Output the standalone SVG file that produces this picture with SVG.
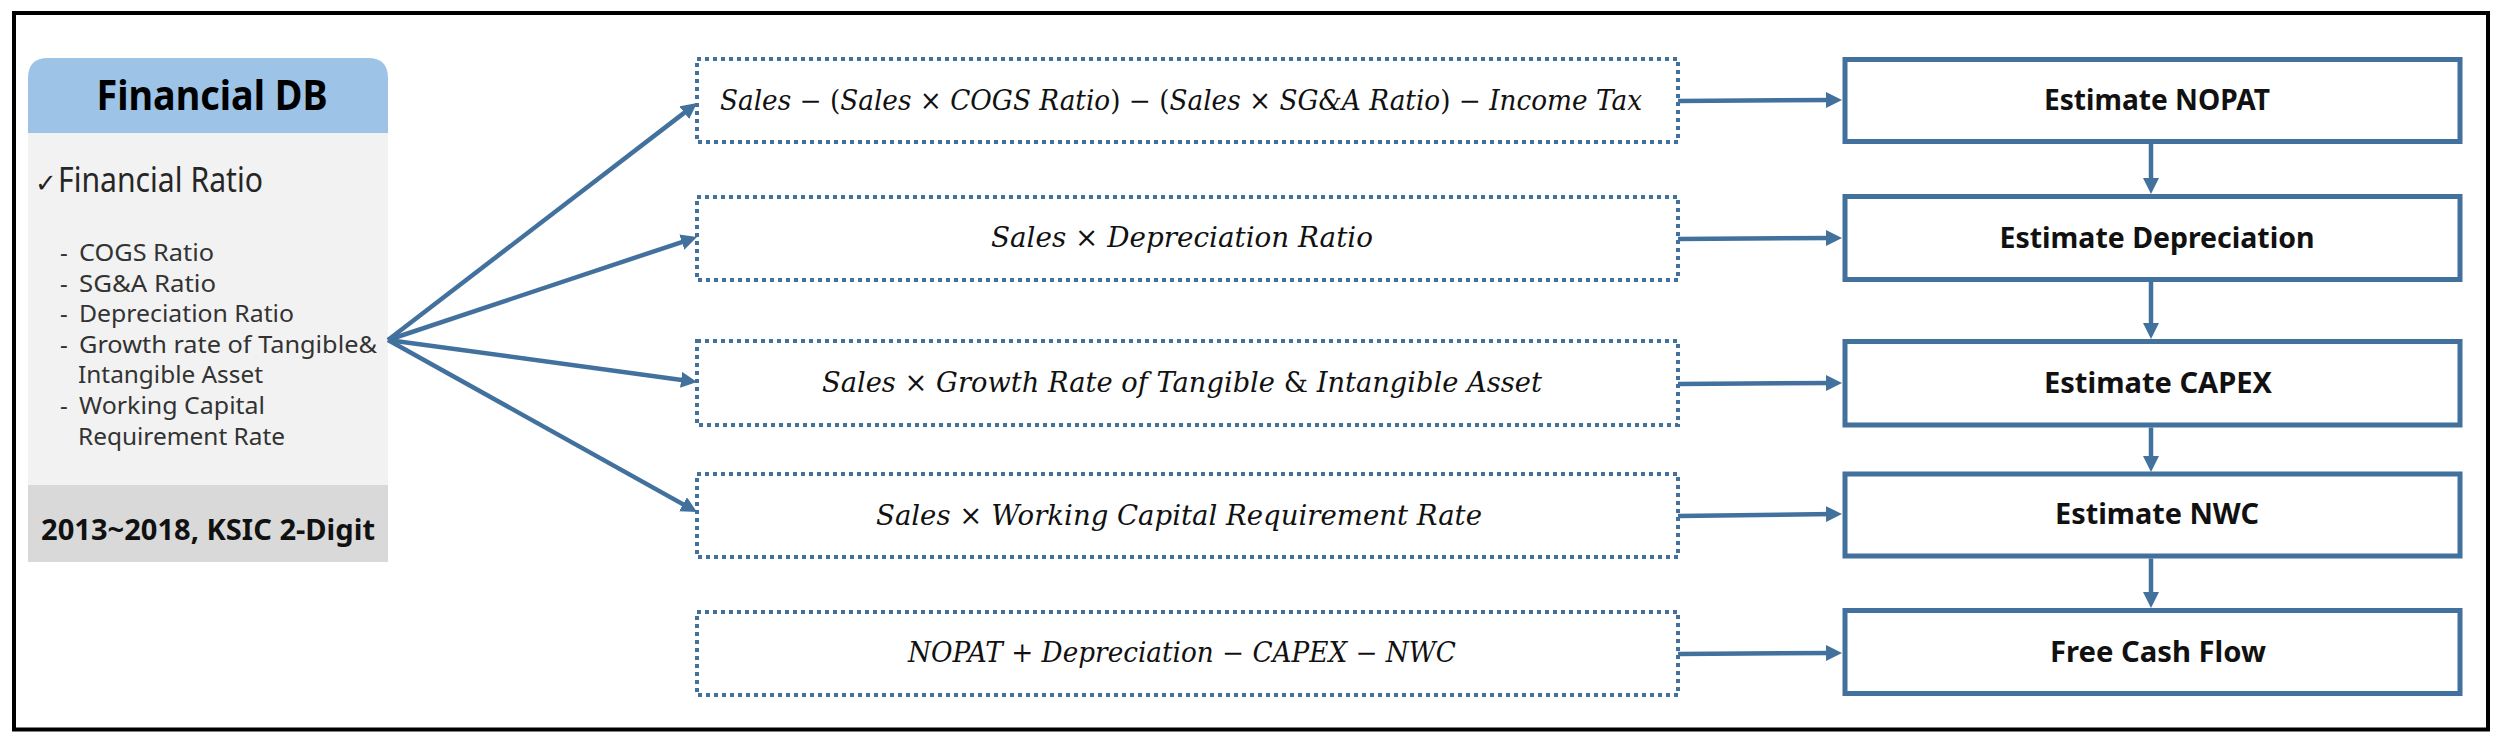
<svg xmlns="http://www.w3.org/2000/svg" width="2500" height="743" viewBox="0 0 2500 743">
<defs>
<style>
.frame{fill:none;stroke:#000;stroke-width:4}
.dash{fill:#fff;stroke:#41719C;stroke-width:4;stroke-dasharray:4 4}
.solid{fill:#fff;stroke:#41719C;stroke-width:5}
.conn{fill:none;stroke:#41719C;stroke-width:4.5;marker-end:url(#ah)}
.math{font-family:"DejaVu Serif","Liberation Serif",serif;font-style:italic;font-size:27px;fill:#111}
.op{font-style:normal}
.lbl{font-family:"Noto Sans","Open Sans",sans-serif;font-weight:bold;font-size:28px;fill:#111;text-anchor:middle}
.list{font-family:"Noto Sans","Open Sans",sans-serif;font-size:24px;fill:#333}
</style>
<marker id="ah" markerUnits="userSpaceOnUse" markerWidth="18" markerHeight="18" refX="8" refY="8" orient="auto">
<path d="M0,0 L16,8 L0,16 z" fill="#41719C"/>
</marker>
</defs>
<rect x="0" y="0" width="2500" height="743" fill="#fff"/>
<rect class="frame" x="14" y="13" width="2474" height="716.5"/>

<g id="financial-db">
<path d="M28,133 L28,78 Q28,58 48,58 L368,58 Q388,58 388,78 L388,133 z" fill="#9DC3E6"/>
<rect x="28" y="133" width="360" height="352" fill="#F2F2F2"/>
<rect x="28" y="485" width="360" height="77" fill="#D9D9D9"/>
<text x="212" y="110" font-family="'Noto Sans','Open Sans',sans-serif" font-weight="bold" font-size="42" fill="#000" text-anchor="middle" textLength="231" lengthAdjust="spacingAndGlyphs">Financial DB</text>
<text x="35" y="192" font-family="'DejaVu Sans',sans-serif" font-size="26" fill="#222">✓</text>
<text x="58" y="192" font-family="'Noto Sans','Open Sans',sans-serif" font-size="35" fill="#262626" textLength="205" lengthAdjust="spacingAndGlyphs">Financial Ratio</text>
<text class="list" y="261"><tspan x="60">-</tspan><tspan x="79" textLength="135" lengthAdjust="spacingAndGlyphs">COGS Ratio</tspan></text>
<text class="list" y="292"><tspan x="60">-</tspan><tspan x="79" textLength="137" lengthAdjust="spacingAndGlyphs">SG&amp;A Ratio</tspan></text>
<text class="list" y="322"><tspan x="60">-</tspan><tspan x="79" textLength="215" lengthAdjust="spacingAndGlyphs">Depreciation Ratio</tspan></text>
<text class="list" y="353"><tspan x="60">-</tspan><tspan x="79" textLength="298" lengthAdjust="spacingAndGlyphs">Growth rate of Tangible&amp;</tspan></text>
<text class="list" y="383" x="78" textLength="185" lengthAdjust="spacingAndGlyphs">Intangible Asset</text>
<text class="list" y="414"><tspan x="60">-</tspan><tspan x="79" textLength="186" lengthAdjust="spacingAndGlyphs">Working Capital</tspan></text>
<text class="list" y="445" x="78" textLength="207" lengthAdjust="spacingAndGlyphs">Requirement Rate</text>
<text x="208" y="540" font-family="'Noto Sans','Open Sans',sans-serif" font-weight="bold" font-size="28" fill="#111" text-anchor="middle" textLength="334" lengthAdjust="spacingAndGlyphs">2013~2018, KSIC 2-Digit</text>
</g>

<g id="formula-nopat">
<rect class="dash" x="697" y="59" width="981" height="83"/>
<text class="math" x="720" y="110" textLength="922" lengthAdjust="spacingAndGlyphs">Sales  <tspan class="op">− (</tspan>Sales <tspan class="op">×</tspan> COGS Ratio<tspan class="op">) − (</tspan>Sales <tspan class="op">×</tspan> SG&amp;A Ratio<tspan class="op">) −</tspan> Income Tax</text>
</g>
<g id="formula-depreciation">
<rect class="dash" x="697" y="197" width="981" height="83"/>
<text class="math" x="991" y="247" textLength="382" lengthAdjust="spacingAndGlyphs">Sales  <tspan class="op">×</tspan> Depreciation Ratio</text>
</g>
<g id="formula-capex">
<rect class="dash" x="697" y="341" width="981" height="84"/>
<text class="math" x="822" y="392" textLength="720" lengthAdjust="spacingAndGlyphs">Sales <tspan class="op">×</tspan> Growth Rate of Tangible <tspan class="op">&amp;</tspan> Intangible Asset</text>
</g>
<g id="formula-nwc">
<rect class="dash" x="697" y="474" width="981" height="83"/>
<text class="math" x="876" y="525" textLength="606" lengthAdjust="spacingAndGlyphs">Sales <tspan class="op">×</tspan> Working Capital Requirement Rate</text>
</g>
<g id="formula-fcf">
<rect class="dash" x="697" y="612" width="981" height="83"/>
<text class="math" x="908" y="662" textLength="548" lengthAdjust="spacingAndGlyphs">NOPAT <tspan class="op">+</tspan> Depreciation <tspan class="op">−</tspan> CAPEX <tspan class="op">−</tspan> NWC</text>
</g>

<g id="estimate-nopat">
<rect class="solid" x="1845" y="59.5" width="615" height="82"/>
<text class="lbl" x="2157" y="110" textLength="226" lengthAdjust="spacingAndGlyphs">Estimate NOPAT</text>
</g>
<g id="estimate-depreciation">
<rect class="solid" x="1845" y="196.5" width="615" height="83"/>
<text class="lbl" x="2157" y="248" textLength="315" lengthAdjust="spacingAndGlyphs">Estimate Depreciation</text>
</g>
<g id="estimate-capex">
<rect class="solid" x="1845" y="341.5" width="615" height="83.5"/>
<text class="lbl" x="2158" y="393" textLength="228" lengthAdjust="spacingAndGlyphs">Estimate CAPEX</text>
</g>
<g id="estimate-nwc">
<rect class="solid" x="1845" y="474" width="615" height="82"/>
<text class="lbl" x="2157" y="524" textLength="204" lengthAdjust="spacingAndGlyphs">Estimate NWC</text>
</g>
<g id="free-cash-flow">
<rect class="solid" x="1845" y="610.5" width="615" height="83"/>
<text class="lbl" x="2158" y="662" textLength="216" lengthAdjust="spacingAndGlyphs">Free Cash Flow</text>
</g>

<g id="connectors">
<line class="conn" x1="388" y1="340" x2="690.65" y2="107.87"/>
<line class="conn" x1="388" y1="340" x2="689.41" y2="239.53"/>
<line class="conn" x1="388" y1="340" x2="689.07" y2="380.92"/>
<line class="conn" x1="388" y1="340" x2="690.01" y2="508.11"/>
<line class="conn" x1="1678" y1="101" x2="1834" y2="100"/>
<line class="conn" x1="1678" y1="239" x2="1834" y2="238"/>
<line class="conn" x1="1678" y1="384" x2="1834" y2="383"/>
<line class="conn" x1="1678" y1="516" x2="1834" y2="514"/>
<line class="conn" x1="1678" y1="654" x2="1834" y2="653"/>
<line class="conn" x1="2151" y1="144" x2="2151" y2="186"/>
<line class="conn" x1="2151" y1="282" x2="2151" y2="331"/>
<line class="conn" x1="2151" y1="427.5" x2="2151" y2="464"/>
<line class="conn" x1="2151" y1="558.5" x2="2151" y2="600"/>
</g>
</svg>
